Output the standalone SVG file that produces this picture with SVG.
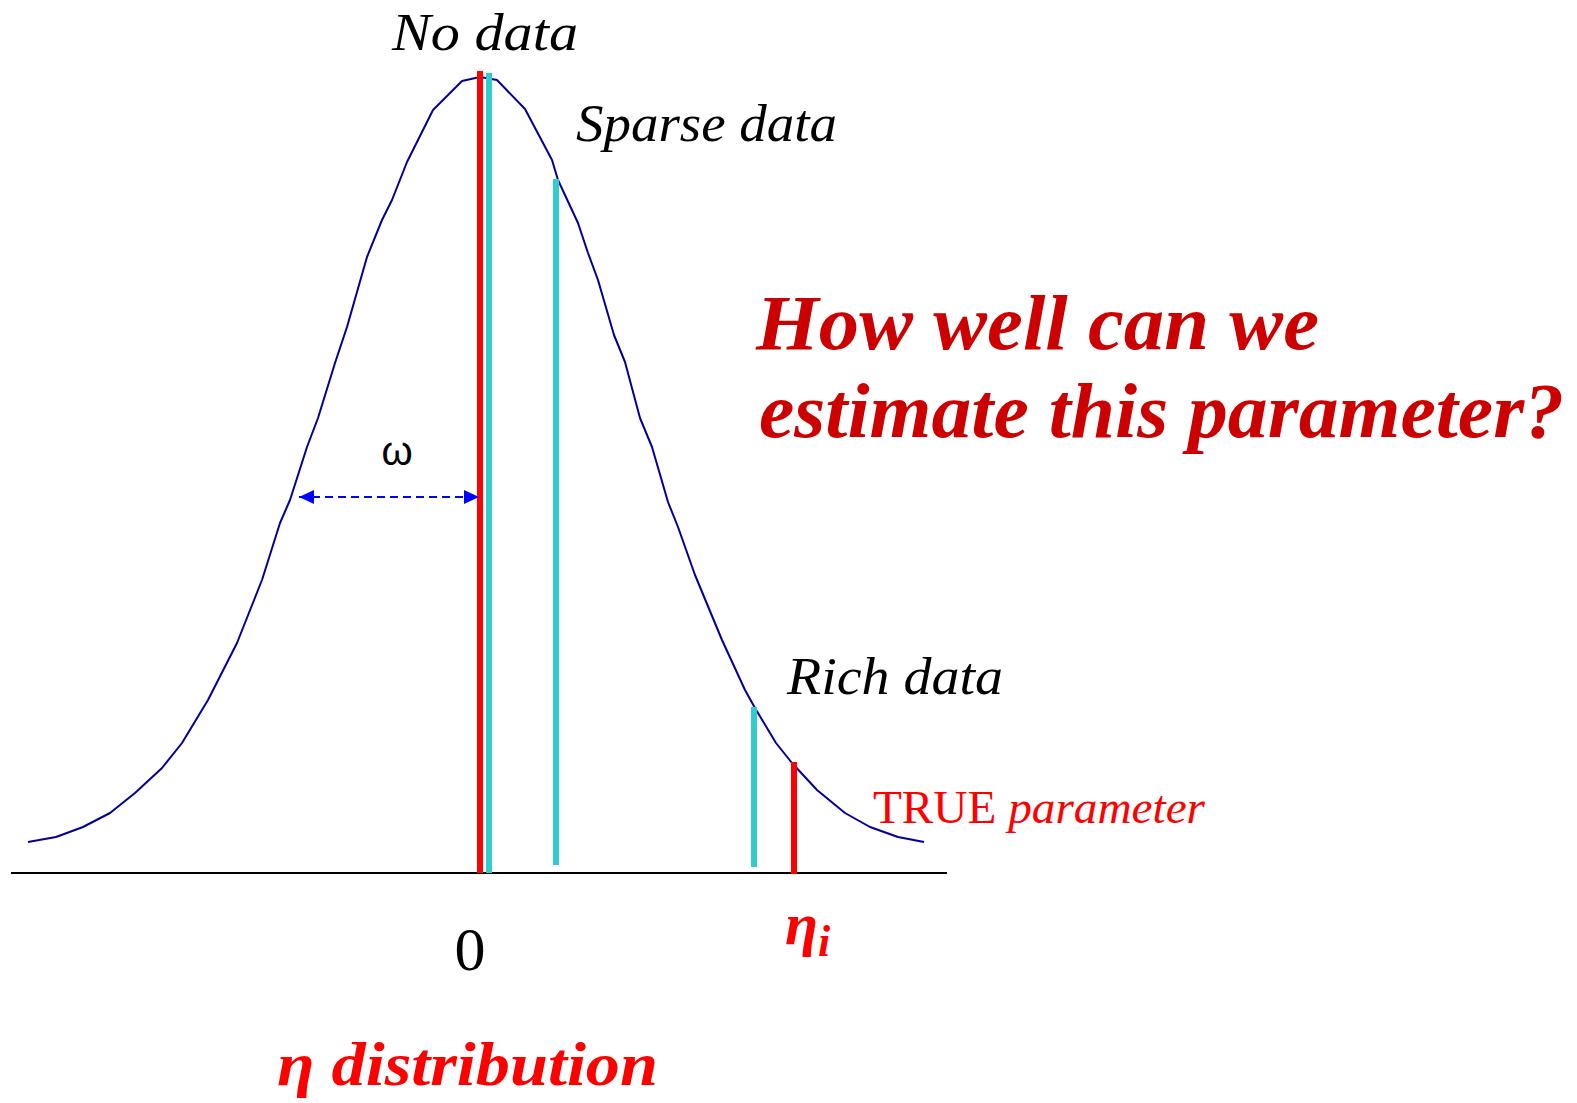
<svg xmlns="http://www.w3.org/2000/svg" width="1577" height="1103" viewBox="0 0 1577 1103">
<style>
.lbl{font-family:"Liberation Serif",serif;font-style:italic;fill:#000}
.q{font-family:"Liberation Serif",serif;font-style:italic;font-weight:bold;fill:#CC0000;font-size:78px}
.red{fill:#FF0000}
.bar{stroke-width:6;fill:none}
.rb{stroke:#FF0000}
.cb{stroke:#33CCCC}
</style>
<defs>
<marker id="ah" viewBox="0 0 15 14" refX="15" refY="7" markerWidth="15" markerHeight="14" markerUnits="userSpaceOnUse" orient="auto-start-reverse">
<path d="M0,0 L15,7 L0,14 z" fill="#0000FF"/>
</marker>
</defs>
<rect width="1577" height="1103" fill="#fff"/>
<g id="axis">
<line x1="11" y1="873" x2="947" y2="873" stroke="#000" stroke-width="2"/>
</g>
<g id="curve">
<polyline fill="none" stroke="#000099" stroke-width="2" stroke-linejoin="round" points="28,842 56,837 83,827 110,813 135,793 162,768 182,743 208,700 237,643 262,580 280,523 290,500 307,447 318,418 335,363 347,327 367,257 382,220 392,200 407,162 433,110 462,81 480,77 497,80 525,109 552,160 558,180 578,223 588,253 598,280 614,335 625,362 640,418 652,447 668,502 678,527 695,575 722,640 745,690 755,708 776,743 792,763 817,790 845,813 870,827 898,837 924,842"/>
</g>
<g id="bars">
<line class="bar rb" x1="480" y1="71" x2="480" y2="873"/>
<line class="bar cb" x1="489" y1="73" x2="489" y2="873"/>
<line class="bar cb" x1="556" y1="179" x2="556" y2="865"/>
<line class="bar cb" x1="754" y1="707" x2="754" y2="867"/>
<line class="bar rb" x1="794" y1="762" x2="794" y2="874"/>
</g>
<g id="connectors">
<line x1="299" y1="497" x2="479" y2="497" stroke="#0000FF" stroke-width="2" stroke-dasharray="8 5" marker-start="url(#ah)" marker-end="url(#ah)"/>
</g>
<g id="omega">
<text x="397" y="465" text-anchor="middle" font-family="Liberation Sans, sans-serif" font-size="40" fill="#000">ω</text>
</g>
<g id="no-data"><text class="lbl" x="392" y="50" font-size="52" textLength="186" lengthAdjust="spacingAndGlyphs">No data</text></g>
<g id="sparse-data"><text class="lbl" x="576" y="141" font-size="52" textLength="261" lengthAdjust="spacingAndGlyphs">Sparse data</text></g>
<g id="rich-data"><text class="lbl" x="787" y="694" font-size="52" textLength="216" lengthAdjust="spacingAndGlyphs">Rich data</text></g>
<g id="true-param"><text class="lbl red" x="873" y="823" font-size="46" textLength="332" lengthAdjust="spacingAndGlyphs"><tspan font-style="normal">TRUE</tspan> parameter</text></g>
<g id="question">
<text class="q" x="756" y="349" textLength="563" lengthAdjust="spacingAndGlyphs">How well can we</text>
<text class="q" x="759" y="437" textLength="805" lengthAdjust="spacingAndGlyphs">estimate this parameter?</text>
</g>
<g id="zero"><text x="470" y="970" text-anchor="middle" font-family="Liberation Serif, serif" font-size="62" fill="#000">0</text></g>
<g id="eta-i">
<text x="785" y="944" font-family="Liberation Serif, serif" font-style="italic" font-weight="bold" font-size="60" fill="#FF0000">η<tspan font-size="44" dy="12">i</tspan></text>
</g>
<g id="eta-dist"><text x="277" y="1085" font-family="Liberation Serif, serif" font-style="italic" font-weight="bold" font-size="62" fill="#FF0000" textLength="381" lengthAdjust="spacingAndGlyphs">η distribution</text></g>
</svg>
